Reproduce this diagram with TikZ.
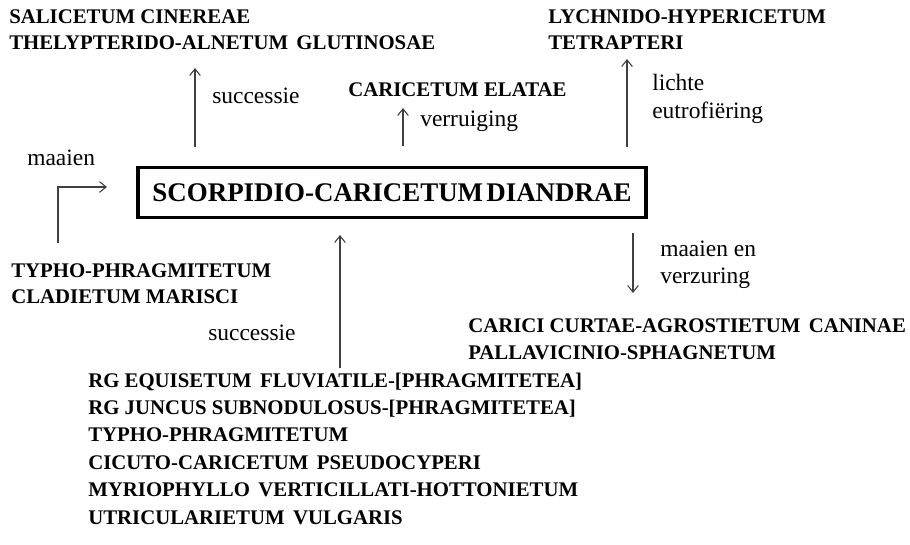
\documentclass[tikz,border=0pt]{standalone}
\usepackage{fontspec}
\setmainfont{Liberation Serif}
\usetikzlibrary{arrows.meta}
\newcommand\gap{\hspace{0.4em}}
\begin{document}
\begin{tikzpicture}[x=0.75pt,y=-0.75pt,
  comm/.style={anchor=base west,inner sep=0pt,font=\bfseries\fontsize{15.6}{18}\selectfont},
  lab/.style={anchor=base west,inner sep=0pt,font=\fontsize{17.6}{20}\selectfont},
  arr/.style={draw=black!75,line width=0.8pt,-{Straight Barb[length=5pt,width=8pt]}},
  mainbox/.style={draw=black,line width=2.6pt,minimum width=381pt,minimum height=37.5pt,inner sep=0pt,font=\bfseries\fontsize{20.2}{22}\selectfont}]
\useasboundingbox (0,0) rectangle (910,544);
% central box
\node[mainbox] (main) at (392,192.5) {SCORPIDIO-CARICETUM\hspace{0.12em}DIANDRAE};
% top left
\node[comm] (sal) at (9,23) {SALICETUM CINEREAE};
\node[comm] (thel) at (9,49) {THELYPTERIDO-ALNETUM\gap GLUTINOSAE};
% top right
\node[comm] (lych) at (548,23) {LYCHNIDO-HYPERICETUM};
\node[comm] (tetr) at (548,49) {TETRAPTERI};
% top middle
\node[comm] (elat) at (348,96) {CARICETUM ELATAE};
% left
\node[comm] (typ1) at (11,277) {TYPHO-PHRAGMITETUM};
\node[comm] (clad) at (11,303) {CLADIETUM MARISCI};
% right
\node[comm] (car) at (468,332) {CARICI CURTAE-AGROSTIETUM\gap CANINAE};
\node[comm] (pall) at (468,359) {PALLAVICINIO-SPHAGNETUM};
% bottom list
\node[comm] (b1) at (88,387) {RG EQUISETUM\gap FLUVIATILE-[PHRAGMITETEA]};
\node[comm] (b2) at (88,414.4) {RG JUNCUS SUBNODULOSUS-[PHRAGMITETEA]};
\node[comm] (b3) at (88,441.8) {TYPHO-PHRAGMITETUM};
\node[comm] (b4) at (88,469.2) {CICUTO-CARICETUM\gap PSEUDOCYPERI};
\node[comm] (b5) at (88,496.6) {MYRIOPHYLLO\gap VERTICILLATI-HOTTONIETUM};
\node[comm] (b6) at (88,524) {UTRICULARIETUM\gap VULGARIS};
% labels
\node[lab] (l1) at (212,103) {successie};
\node[lab] (l2) at (420,126) {verruiging};
\node[lab] (l3) at (652,90) {lichte};
\node[lab] (l4) at (652,118) {eutrofiëring};
\node[lab] (l5) at (27,165) {maaien};
\node[lab] (l6) at (660,256) {maaien en};
\node[lab] (l7) at (660,283) {verzuring};
\node[lab] (l8) at (208,340) {successie};
% arrow end points
\coordinate (a1s) at (195,147); \coordinate (a1e) at (195,68);
\coordinate (a2s) at (403,146); \coordinate (a2e) at (403,108);
\coordinate (a3s) at (627,147); \coordinate (a3e) at (627,59);
\coordinate (a4s) at (58,243);  \coordinate (a4e) at (107,187);
\coordinate (a5s) at (340,368); \coordinate (a5e) at (340,235);
\coordinate (a6s) at (633,233); \coordinate (a6e) at (633,293);
\draw[arr] (a1s) -- (a1e);
\draw[arr] (a2s) -- (a2e);
\draw[arr] (a3s) -- (a3e);
\draw[arr] (a4s) |- (a4e);
\draw[arr] (a5s) -- (a5e);
\draw[arr] (a6s) -- (a6e);
\end{tikzpicture}
\end{document}
